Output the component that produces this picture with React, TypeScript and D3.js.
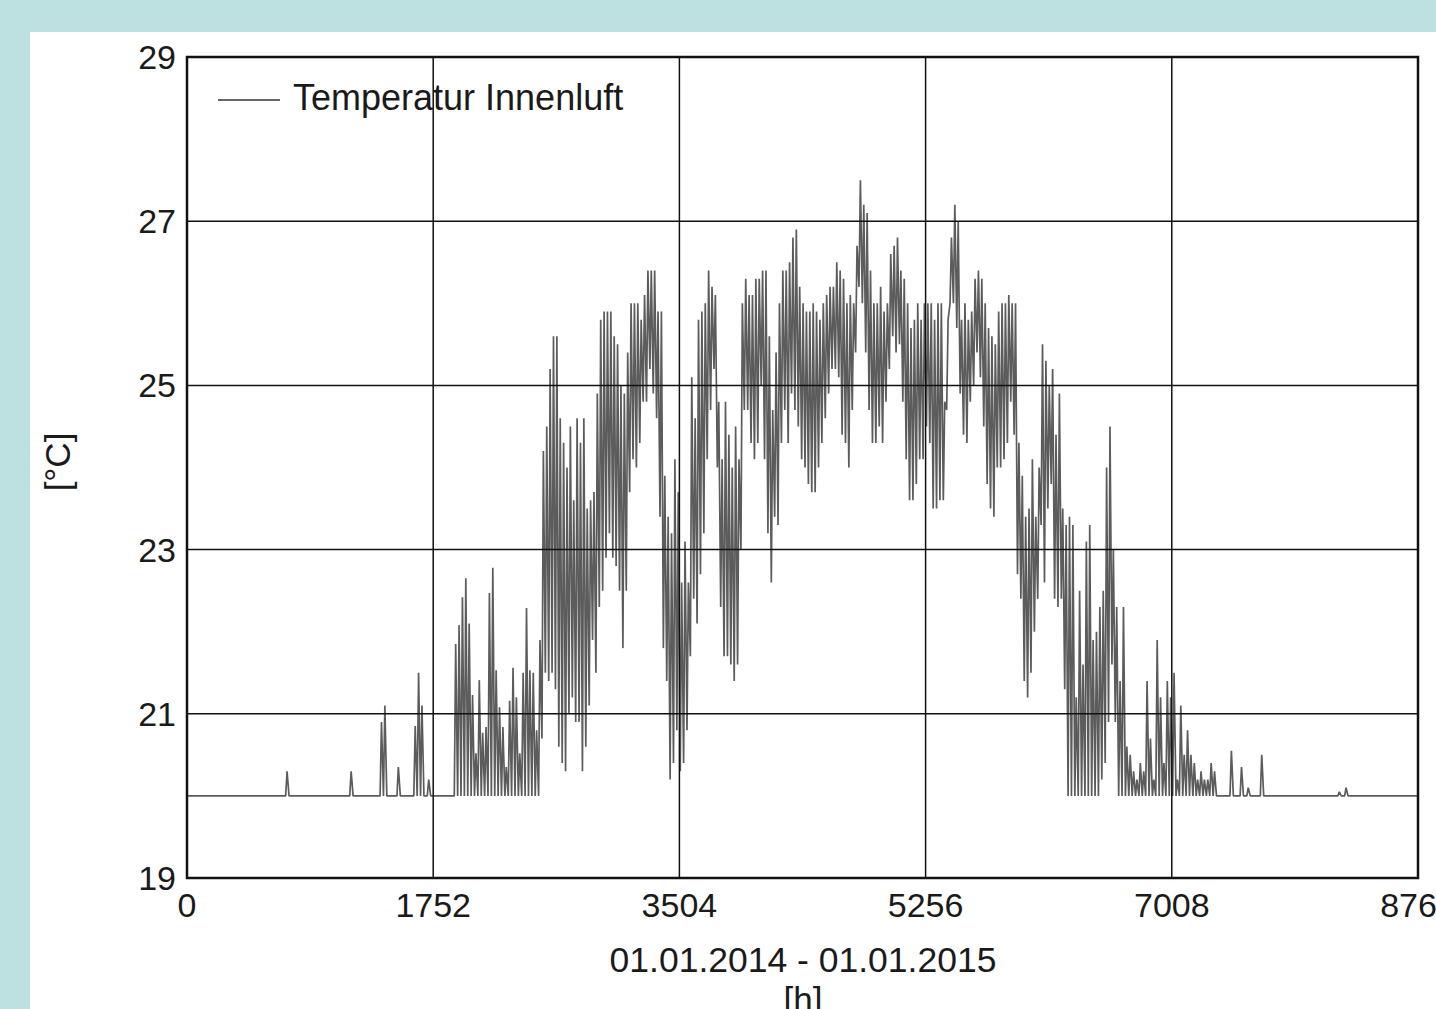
import React, { useEffect, useRef } from "react";
import * as d3 from "d3";

// hours of the year
const xTicks = [0, 1752, 3504, 5256, 7008, 8760];
const yTicks = [19, 21, 23, 25, 27, 29];

// heating setpoint: the curve sits on it whenever nothing happens
const baseTemp = 20;

// isolated daily peaks outside the warm season: [day, max °C]
const quietSpikes: [number, number][] = [
  [29, 20.3], [48, 20.3], [57, 20.9], [58, 21.1], [62, 20.35],
  [67, 20.85], [68, 21.5], [69, 21.1], [71, 20.2],
  [309, 20.55], [312, 20.35], [314, 20.1], [318, 20.5], [341, 20.05], [343, 20.1],
];

// daily max / min from day 79 to day 304
const seasonStart = 79;
const seasonHigh = [
  21.85, 22.08, 22.42, 22.65, 22.1, 21.23, 20.52, 21.41, 20.77, 20.84,
  22.47, 22.78, 21.53, 21.08, 20.84, 20.35, 21.16, 21.56, 21.2, 20.52,
  21.5, 22.29, 21.53, 21.5, 20.8, 21.9, 24.2, 24.5, 25.2, 25.6,
  25.6, 24.6, 24.3, 24.0, 24.5, 23.6, 24.6, 24.3, 24.6, 23.5,
  23.6, 23.7, 24.9, 25.8, 25.9, 25.9, 25.9, 25.6, 25.5, 25.0,
  24.9, 25.4, 26.0, 26.0, 26.0, 25.8, 26.1, 26.4, 26.4, 26.4,
  25.9, 25.9, 23.9, 23.4, 23.2, 24.1, 23.7, 22.6, 23.1, 22.6,
  25.1, 24.6, 25.8, 25.9, 26.0, 26.4, 26.2, 26.1, 24.8, 24.1,
  24.8, 24.4, 24.0, 24.5, 24.1, 26.0, 26.3, 26.1, 26.1, 26.3,
  26.3, 26.4, 26.4, 25.6, 24.7, 25.4, 26.0, 26.4, 26.4, 26.5,
  26.8, 26.9, 26.2, 26.0, 25.9, 25.9, 26.0, 25.9, 25.8, 26.0,
  26.1, 26.2, 26.2, 26.5, 26.4, 26.3, 26.0, 26.1, 26.0, 26.7,
  27.5, 27.2, 27.1, 26.4, 26.0, 26.0, 26.2, 25.9, 26.0, 26.6,
  26.7, 26.8, 26.4, 26.3, 26.0, 25.7, 25.8, 26.0, 25.8, 26.0,
  26.0, 26.0, 25.8, 26.0, 26.0, 24.8, 25.8, 26.8, 27.2, 27.0,
  25.8, 26.0, 25.8, 25.9, 26.3, 26.4, 26.3, 26.0, 25.7, 25.6,
  25.5, 25.9, 26.0, 26.0, 26.1, 26.0, 26.0, 24.3, 23.9, 23.4,
  23.5, 24.1, 23.4, 24.0, 25.5, 25.3, 25.0, 25.2, 24.4, 24.9,
  23.5, 23.3, 23.4, 23.3, 21.2, 22.5, 21.6, 23.1, 23.3, 21.9,
  22.0, 22.3, 22.5, 24.0, 24.5, 23.0, 22.3, 21.4, 22.3, 20.6,
  20.5, 20.3, 20.2, 20.4, 20.3, 21.4, 20.7, 20.2, 21.9, 21.2,
  20.4, 21.4, 21.2, 21.5, 20.2, 21.1, 20.5, 20.8, 20.5, 20.4,
  20.2, 20.3, 20.2, 20.2, 20.4, 20.3,
];
const seasonLow = [
  20, 20, 20, 20, 20, 20, 20, 20, 20, 20,
  20, 20, 20, 20, 20, 20, 20, 20, 20, 20,
  20, 20, 20, 20, 20, 20, 20.7, 21.5, 21.4, 21.5,
  21.3, 20.6, 20.4, 20.3, 21.0, 21.2, 20.9, 20.9, 20.3, 20.6,
  21.1, 21.9, 21.5, 22.3, 22.5, 22.9, 23.2, 22.9, 22.8, 22.5,
  21.8, 22.5, 23.7, 24.1, 24.0, 24.3, 24.8, 24.8, 25.2, 24.9,
  24.6, 23.4, 21.8, 21.4, 20.2, 20.4, 20.8, 20.3, 20.4, 20.8,
  21.7, 22.4, 22.1, 22.7, 23.2, 24.1, 24.7, 25.2, 24.0, 22.3,
  21.7, 21.7, 21.6, 21.4, 21.6, 23.0, 24.7, 24.7, 24.3, 24.1,
  24.3, 25.0, 24.1, 23.2, 22.6, 23.4, 23.3, 24.3, 24.7, 24.3,
  24.9, 24.7, 24.5, 24.1, 24.0, 23.8, 23.7, 23.7, 24.0, 24.3,
  24.6, 24.9, 25.2, 25.2, 25.1, 24.4, 24.3, 24.0, 24.7, 25.4,
  26.2, 26.0, 25.4, 24.7, 24.3, 24.3, 24.5, 24.3, 24.8, 25.2,
  25.6, 25.4, 25.5, 24.8, 24.1, 23.6, 23.6, 23.8, 24.1, 24.1,
  24.5, 24.3, 23.5, 23.5, 23.6, 23.6, 24.7, 26.0, 26.0, 25.7,
  24.9, 24.4, 24.3, 24.8, 25.0, 25.4, 25.1, 24.5, 23.8, 23.5,
  23.4, 24.0, 24.0, 24.1, 24.3, 24.8, 24.4, 22.7, 22.4, 21.4,
  21.2, 21.5, 22.0, 22.4, 23.3, 22.6, 23.5, 23.8, 22.4, 22.3,
  22.4, 21.3, 20, 20, 20, 20, 20, 20, 20, 20,
  20, 20, 20.2, 20.4, 20.9, 21.6, 20.9, 20, 20, 20,
  20, 20, 20, 20, 20, 20, 20, 20, 20, 20,
  20, 20, 20, 20, 20, 20, 20, 20, 20, 20,
  20, 20, 20, 20, 20, 20,
];

const FONT = "'Liberation Sans', Arial, sans-serif";

export default function App() {
  const svgRef = useRef<SVGSVGElement>(null);

  useEffect(() => {
    if (!svgRef.current) return;
    document.body.style.margin = "0";
    document.body.style.overflow = "hidden";

    const svg = d3.select(svgRef.current);
    svg.selectAll("*").remove();

    const left = 187, right = 1418, top = 57, bottom = 878;

    const x = d3.scaleLinear().domain([0, 8760]).range([left, right]);
    const y = d3.scaleLinear().domain([19, 29]).range([bottom, top]);

    // page background and white panel
    svg.append("rect").attr("width", 1436).attr("height", 1009).attr("fill", "#bde0e0");
    svg.append("rect").attr("x", 30).attr("y", 32).attr("width", 1406).attr("height", 977).attr("fill", "#fff");

    // daily low/high -> zigzag line through the year
    const spikes = new Map(quietSpikes);
    const series: [number, number][] = [];
    for (let d = 0; d < 365; d++) {
      const i = d - seasonStart;
      let lo = baseTemp;
      let hi = spikes.get(d) ?? baseTemp;
      if (i >= 0 && i < seasonHigh.length) {
        lo = seasonLow[i];
        hi = seasonHigh[i];
      }
      series.push([d * 24 + 6, lo], [d * 24 + 16, hi]);
    }
    series.push([8760, baseTemp]);

    const line = d3
      .line<[number, number]>()
      .x((d) => x(d[0]))
      .y((d) => y(d[1]));

    svg.append("path")
      .datum(series)
      .attr("fill", "none")
      .attr("stroke", "#5c5c5c")
      .attr("stroke-width", 1.7)
      .attr("stroke-linejoin", "bevel")
      .attr("d", line);

    // grid
    const grid = svg.append("g").attr("stroke", "#111").attr("stroke-width", 1.5);
    xTicks.slice(1, -1).forEach((t) => {
      grid.append("line").attr("x1", x(t)).attr("x2", x(t)).attr("y1", top).attr("y2", bottom);
    });
    yTicks.slice(1, -1).forEach((t) => {
      grid.append("line").attr("x1", left).attr("x2", right).attr("y1", y(t)).attr("y2", y(t));
    });

    svg.append("rect")
      .attr("x", left).attr("y", top)
      .attr("width", right - left).attr("height", bottom - top)
      .attr("fill", "none").attr("stroke", "#111").attr("stroke-width", 2.5);

    const txt = svg.append("g").attr("font-family", FONT).attr("fill", "#1a1a1a").attr("font-size", 34);

    // y tick labels
    yTicks.forEach((t) => {
      txt.append("text")
        .attr("x", left - 11).attr("y", y(t) + 12)
        .attr("text-anchor", "end")
        .text(t);
    });

    // x tick labels
    xTicks.forEach((t) => {
      txt.append("text")
        .attr("x", x(t)).attr("y", 917)
        .attr("text-anchor", "middle")
        .text(t);
    });

    txt.append("text").attr("x", 803).attr("y", 972).attr("text-anchor", "middle").attr("font-size", 35.5)
      .text("01.01.2014 - 01.01.2015");
    txt.append("text").attr("x", 803).attr("y", 1012).attr("text-anchor", "middle").attr("font-size", 35)
      .text("[h]");
    txt.append("text")
      .attr("transform", "translate(70,462) rotate(-90)")
      .attr("text-anchor", "middle").attr("font-size", 35)
      .text("[°C]");

    // legend
    svg.append("line").attr("x1", 218).attr("x2", 280).attr("y1", 100).attr("y2", 100)
      .attr("stroke", "#333").attr("stroke-width", 1.5);
    txt.append("text").attr("x", 293).attr("y", 110).attr("font-size", 36)
      .text("Temperatur Innenluft");
  }, []);

  return <svg ref={svgRef} width={1436} height={1009} style={{ display: "block" }} />;
}
